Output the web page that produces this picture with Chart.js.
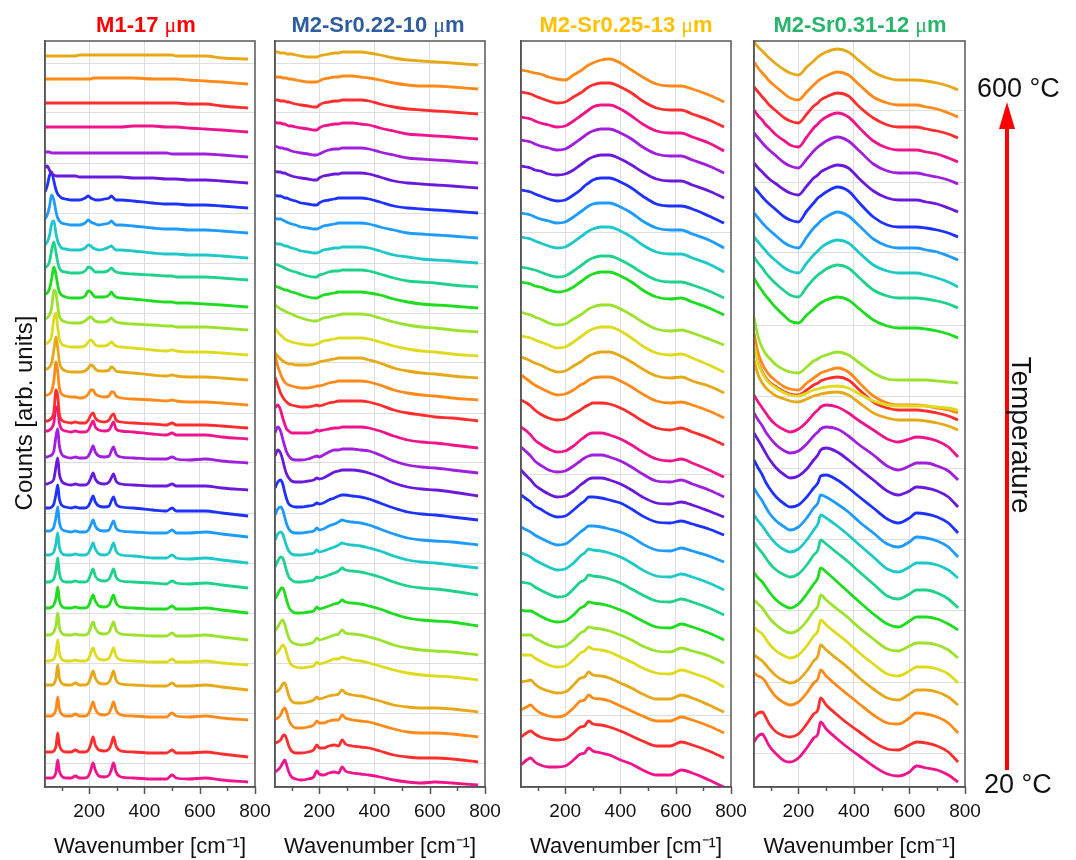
<!DOCTYPE html>
<html>
<head>
<meta charset="utf-8">
<script src="https://cdn.jsdelivr.net/npm/chart.js@4.4.1/dist/chart.umd.min.js"></script>
<style>
html,body{margin:0;padding:0;background:#fff;}
#wrap{position:relative;width:1076px;height:860px;overflow:hidden;font-family:"Liberation Sans",Arial,Helvetica,sans-serif;background:#fff;}
#wrap canvas{position:absolute;left:0;top:0;pointer-events:none;}
.txt{position:absolute;white-space:nowrap;color:#111;}
.ttl{position:absolute;top:12px;width:300px;height:26px;line-height:26px;text-align:center;font-weight:bold;font-size:22px;white-space:nowrap;}
.mu{font-family:"Liberation Serif","DejaVu Serif",serif;font-weight:normal;}
</style>
</head>
<body>
<div id="wrap">
<canvas id="p1" width="1076" height="860"></canvas>
<canvas id="p2" width="1076" height="860"></canvas>
<canvas id="p3" width="1076" height="860"></canvas>
<canvas id="p4" width="1076" height="860"></canvas>

<div class="ttl" style="left:-4px;color:#ff0000;">M1-17 <span class="mu">μ</span>m</div>
<div class="ttl" style="left:228px;color:#2e5da0;">M2-Sr0.22-10 <span class="mu">μ</span>m</div>
<div class="ttl" style="left:476px;color:#ffc000;">M2-Sr0.25-13 <span class="mu">μ</span>m</div>
<div class="ttl" style="left:710px;color:#27b56a;">M2-Sr0.31-12 <span class="mu">μ</span>m</div>

<div class="txt" style="left:-126px;top:399px;width:300px;height:28px;line-height:28px;text-align:center;font-size:24px;transform:rotate(-90deg);">Counts [arb. units]</div>

<div class="txt" style="left:977px;top:72px;font-size:27px;line-height:32px;">600 °C</div>
<div class="txt" style="left:984px;top:768px;font-size:27px;line-height:32px;">20 °C</div>
<div style="position:absolute;left:1005px;top:124px;width:3.5px;height:646px;background:#ff0000;"></div>
<div style="position:absolute;left:999px;top:102px;width:0;height:0;border-left:8px solid transparent;border-right:8px solid transparent;border-bottom:27px solid #ff0000;"></div>
<div class="txt" style="left:871px;top:419px;width:300px;height:32px;line-height:32px;text-align:center;font-size:28px;transform:rotate(90deg);">Temperature</div>
</div>

<script>
const FONT = '"Liberation Sans", Arial, Helvetica, sans-serif';

// temperatures of the stacked spectra (bottom to top)
const temperatures = [20,40,60,80,100,120,140,160,180,200,220,240,260,280,300,320,340,360,380,400,420,440,460,480,500,520,540,560,580,600];

// colour cycle used for the stacked spectra (repeats every 13)
const palette = ['#f0148c','#ff2d2d','#ff8a1a','#e6a817','#dedb1e','#9be22d','#1edc1e','#1ed28c','#1ec8c8','#1e9bff','#1e32ff','#6a19dc','#a01edc'];

// x-axis ticks
const xTickValues = [100,200,300,400,500,600,700,800];
const xLabelValues = [200,400,600,800];
const xGridValues = [200,400,600];

// ---------- Panel 1 : M1-17 um ----------
const m1X = [40,48,56,64,72,80,86,92,100,115,135,150,165,185,197,206,214,222,235,255,272,280,288,297,315,360,430,480,500,515,560,620,680,775];
const m1Offsets = [5,30,67,97,122,147,174,199,224,250,271,297,324,348,359,382,407,432,457,480,507,529,554,579,604,630,655,679,703,728];
const m1Curves = [
 [4,4,4,4,5,10,22,11,6, 4,4,6,4,4, 6,12,19,12,6,5, 7,12,19,10,5, 4,3,3,7,4, 3,4,2,0],
 [5,5,5,5,6,11,24,12,7, 5,5,7,5,5, 7,13,20,12,7,6, 8,13,20,11,6, 5,4,4,7,4, 4,5,3,0],
 [4,4,4,4,6,11,23,11,6, 4,4,6,4,4, 6,12,18,11,6,5, 7,12,18,10,5, 4,3,3,7,4, 3,4,2,0],
 [5,5,5,5,6,12,25,12,7, 5,5,7,5,5, 7,13,19,12,7,6, 8,13,19,10,6, 5,4,4,7,4, 4,5,3,0],
 [4,4,4,5,6,13,25,12,6, 4,4,5,4,4, 6,12,17,11,6,5, 7,12,17,9,5, 4,3,3,6,3, 3,4,2,0],
 [5,5,5,6,8,15,27,13,7, 5,5,6,5,5, 7,13,18,12,7,6, 8,13,18,10,6, 5,4,4,7,4, 4,5,3,0],
 [5,5,5,6,8,15,26,13,7, 5,5,6,5,5, 7,13,18,12,7,6, 8,13,18,10,6, 5,4,4,7,4, 4,5,3,0],
 [6,6,6,7,9,18,30,15,8, 6,6,7,6,6, 8,14,19,12,8,7, 9,14,19,11,7, 6,5,4,7,5, 4,5,3,0],
 [8,8,8,9,11,20,30,16,10, 8,8,9,8,8, 10,15,20,14,9,8, 10,15,20,12,8, 7,5,5,8,5, 4,5,3,0],
 [6,6,6,7,10,20,30,15,8, 6,5,6,5,5, 7,12,17,11,7,6, 7,12,16,9,6, 5,4,4,7,4, 4,5,3,0],
 [8,8,8,9,12,22,31,17,11, 9,8,9,8,8, 10,15,20,14,10,9, 10,15,19,12,9, 8,6,5,8,5, 5,5,3,0],
 [6,6,7,8,11,24,32,16,9, 6,5,6,5,5, 7,12,17,11,7,6, 8,12,16,9,6, 5,4,4,6,4, 4,4,2,0],
 [6,6,7,8,12,27,34,17,9, 6,5,6,5,5, 7,12,17,11,7,6, 7,12,16,9,6, 5,4,4,6,4, 3,4,2,0],
 [8,8,9,11,16,32,30,16,10, 8,7,8,7,7, 9,14,18,12,9,8, 9,13,17,10,8, 7,5,4,6,4, 4,4,2,0],
 [7,7,8,10,16,38,32,14,8, 6,5,6,5,5, 8,13,15,10,7,6, 8,12,14,8,6, 5,4,3,5,3, 3,3,2,0],
 [9,10,11,14,24,43,34,17,11, 9,8,8,7,8, 11,15,15,11,9,8, 9,13,13,9,7, 6,5,4,5,4, 3,3,2,0],
 [11,11,13,17,30,43,32,18,12, 9,8,8,8,9, 12,15,14,11,9,9, 10,13,12,9,8, 7,5,4,5,4, 3,3,2,0],
 [11,12,14,19,36,42,28,16,11, 9,8,8,8,9, 13,15,13,10,9,9, 11,13,11,9,8, 7,5,4,5,4, 3,3,2,0],
 [11,12,15,22,40,36,24,14,10, 8,7,7,7,9, 12,13,11,9,8,8, 10,12,10,8,7, 6,5,4,4,3, 3,3,2,0],
 [13,14,18,28,40,32,22,15,12, 10,9,9,9,11, 16,15,12,10,10,10, 12,15,12,10,9, 8,6,5,5,4, 4,3,2,0],
 [12,14,18,30,38,27,18,12,9, 8,7,7,7,9, 13,12,10,8,8,8, 10,12,10,8,7, 6,5,4,4,3, 3,3,2,0],
 [13,16,22,34,37,24,17,13,10, 9,8,8,8,10, 13,12,10,9,8,9, 11,12,10,8,8, 7,5,4,4,4, 3,3,2,0],
 [14,18,26,38,33,21,15,12,10, 9,8,8,8,10, 13,11,10,9,8,9, 10,12,10,8,8, 7,5,4,4,4, 3,3,2,0],
 [16,22,32,36,27,18,14,12,10, 9,8,8,8,10, 12,10,9,8,8,9, 10,12,10,8,8, 7,5,4,4,4, 3,3,2,0],
 [15,17,13,9,8,7,7,7,7, 7,7,7,6,6, 6,6,6,6,6,6, 6,6,6,6,6, 5,5,4,4,4, 3,3,2,0],
 [5,5,5,4,4,4,4,4,4, 4,4,4,4,4, 4,4,4,4,4,4, 4,4,4,4,4, 4,4,4,3,3, 3,3,2,0],
 [5,5,5,5,5,5,5,5,5, 5,5,5,5,5, 5,5,5,5,5,5, 5,5,5,5,5, 6,6,5,5,5, 4,3,2,0],
 [5,5,5,5,5,5,5,5,5, 5,5,5,5,5, 5,5,5,5,5,5, 5,5,5,5,5, 5,5,5,5,5, 4,4,2,0],
 [5,5,5,5,5,5,5,5,5, 5,5,5,5,5, 5,5,6,6,6,6, 6,6,6,6,6, 6,5,5,5,5, 4,3,2,0],
 [3,3,3,3,3,3,3,3,3, 3,3,3,4,4, 4,4,4,4,4,4, 4,4,4,4,4, 4,4,4,4,3, 3,3,1,0]
];
const m1YGrid = [24,74,124,174,224,274,324,374,424,474,524,574,624,674,724];

// ---------- Panel 2 : M2-Sr0.22-10 um ----------
const m2X = [40,50,60,68,75,82,90,100,115,135,160,180,192,200,215,235,255,270,283,295,320,350,380,420,470,520,570,620,680,775];
const m2Offsets = [2,25,50,75,107,132,161,192,219,242,267,291,314,339,366,387,409,431,455,479,500,524,549,574,599,624,648,673,698,722];
const m2Curves = [
 [13,15,18,22,25,20,13,8,6,5, 6,8,14,11,10,12,13,12,18,14, 12,11,10,8,5,3,2,3,2,0],
 [19,20,22,26,27,23,16,11,9,9, 10,12,17,14,14,16,17,16,22,18, 16,15,14,11,7,5,4,4,3,0],
 [18,19,22,27,29,25,17,12,9,9, 10,12,16,14,14,16,17,17,22,19, 17,16,15,12,8,5,4,4,3,0],
 [20,21,24,28,29,24,16,11,9,9, 10,12,15,13,14,16,17,18,22,19, 17,16,14,11,7,5,4,4,3,0],
 [25,28,32,35,33,27,20,15,13,12, 13,14,18,16,17,19,21,21,23,22, 20,19,17,14,10,7,5,4,3,0],
 [24,28,33,35,31,24,17,13,11,10, 11,13,17,15,16,18,20,21,25,22, 21,20,18,15,10,7,5,4,3,0],
 [27,32,37,38,33,26,19,15,13,13, 14,15,19,17,18,20,22,23,26,24, 23,22,20,17,12,8,6,5,4,0],
 [28,34,38,37,31,24,18,15,13,13, 14,15,18,17,18,20,22,24,27,25, 24,23,21,18,13,9,7,6,4,0],
 [28,34,36,34,28,22,17,14,13,13, 14,15,18,16,17,19,21,23,25,24, 23,22,20,17,12,8,6,5,3,0],
 [30,36,38,35,28,21,16,13,12,12, 13,14,17,15,16,19,21,23,25,24, 23,22,20,16,11,7,5,4,3,0],
 [32,38,40,36,28,21,16,14,13,13, 14,15,17,16,17,20,22,24,25,25, 24,23,21,17,12,8,6,5,3,0],
 [40,46,43,36,28,22,18,15,14,14, 15,16,18,17,18,21,24,25,26,26, 26,25,23,19,13,9,7,6,4,0],
 [40,46,42,34,27,21,17,14,13,13, 14,16,17,16,18,21,23,23,24,24, 24,23,22,18,12,8,6,5,3,0],
 [40,43,38,30,24,19,17,15,15,15, 15,16,18,17,18,19,20,20,21,21, 21,21,20,17,12,8,6,5,3,0],
 [44,36,28,24,21,19,17,16,15,14, 14,15,16,15,16,18,19,20,20,20, 20,20,19,16,11,8,6,4,3,0],
 [45,34,26,21,18,16,15,14,13,12, 12,13,14,14,15,17,18,19,19,19, 19,19,18,15,10,7,5,4,2,0],
 [25,22,19,17,16,15,14,14,13,13, 13,14,15,16,17,18,19,20,20,20, 20,20,18,15,10,7,5,4,2,0],
 [28,24,21,19,17,16,15,14,13,12, 11,11,12,13,15,16,17,18,18,18, 18,18,17,14,10,7,5,4,2,0],
 [27,25,23,22,21,20,19,18,16,14, 12,11,11,12,14,15,16,17,18,18, 18,18,17,14,10,7,5,4,2,0],
 [22,21,20,19,18,18,17,16,15,13, 11,10,10,11,13,14,15,16,16,16, 16,16,15,13,9,6,4,3,2,0],
 [23,22,21,20,19,18,17,16,15,13, 11,10,10,12,13,15,16,16,17,17, 17,17,16,13,9,6,5,4,2,0],
 [20,19,19,18,17,17,16,15,14,12, 11,10,10,11,13,14,15,15,16,16, 16,16,15,12,8,6,4,3,2,0],
 [20,19,19,18,17,16,15,14,13,11, 10,9,9,10,12,13,14,15,15,15, 15,15,14,11,8,5,4,3,2,0],
 [18,17,17,16,15,15,14,13,12,10, 9,8,8,10,12,13,14,15,15,15, 15,15,14,11,7,5,4,3,2,0],
 [17,16,16,15,15,14,13,12,11,10, 9,8,8,10,12,13,14,14,15,15, 15,15,14,11,7,5,4,3,2,0],
 [17,16,15,15,14,14,13,12,11,10, 9,8,8,9,11,13,14,14,15,15, 15,15,14,11,8,5,4,3,2,0],
 [17,16,16,15,15,14,13,13,12,11, 10,9,9,11,13,14,15,15,16,16, 16,15,14,11,8,5,4,3,2,0],
 [14,14,13,13,13,12,12,11,10,9, 8,7,7,9,11,12,13,13,14,14, 14,14,13,10,7,5,4,3,2,0],
 [12,12,12,11,11,11,10,10,9,8, 7,7,7,8,10,11,12,12,13,13, 13,12,11,9,6,4,3,3,2,0],
 [13,13,12,12,12,11,11,11,10,9, 8,8,8,9,10,11,12,12,13,13, 13,13,12,10,7,5,4,3,2,0]
];
const m2YGrid = [24,74,124,174,224,274,324,374,424,474,524,574,624,674,724];

// ---------- Panel 3 : M2-Sr0.25-13 um ----------
const m3X = [40,60,75,90,110,140,170,200,230,255,270,285,300,330,360,400,440,480,530,580,620,660,720,775];
const m3Offsets = [0,29,54,75,100,124,147,172,197,225,252,270,290,310,342,369,394,415,442,472,489,515,539,564,589,614,636,660,685];
const m3Curves = [
 [22,27,29,25,22,20,20,21, 27,33,34,39,36,34,32,27, 23,17,12,12,17,14,7,0],
 [21,25,27,24,21,19,18,19, 25,31,32,37,34,33,31,27, 22,17,12,12,16,13,7,0],
 [23,26,28,24,20,17,16,18, 25,32,33,38,35,34,32,27, 22,17,12,12,16,13,7,0],
 [30,31,32,28,24,21,19,20, 27,34,35,40,37,36,34,29, 24,18,13,13,17,14,7,0],
 [32,32,32,29,26,22,20,21, 27,34,36,40,38,37,35,30, 25,19,14,13,17,14,8,0],
 [28,28,28,25,22,18,16,17, 23,30,32,36,35,34,32,28, 23,17,12,11,15,12,7,0],
 [30,29,29,27,24,20,18,19, 25,32,34,38,37,36,34,30, 25,19,13,12,16,13,7,0],
 [33,32,31,28,25,21,18,19, 26,33,35,40,39,38,36,32, 26,20,14,13,16,13,7,0],
 [37,35,33,30,27,23,20,21, 27,34,37,41,40,39,37,33, 27,20,14,13,16,13,7,0],
 [35,32,30,27,24,20,17,18, 24,30,33,36,36,35,33,30, 25,18,12,11,14,11,6,0],
 [40,36,33,29,26,21,18,19, 25,31,34,38,38,37,35,32, 26,19,13,12,14,11,6,0],
 [47,41,37,32,28,23,20,21, 26,32,35,38,39,39,37,33, 27,20,14,13,15,12,6,0],
 [50,45,41,36,32,27,25,26, 31,36,39,41,42,42,40,36, 30,23,16,15,17,13,7,0],
 [50,46,42,37,33,28,25,26, 31,37,40,43,44,44,42,38, 32,25,18,16,18,14,7,0],
 [45,42,39,35,31,27,25,26, 31,35,38,40,42,42,41,37, 31,24,17,15,17,13,7,0],
 [43,39,36,33,30,26,23,24, 28,33,35,38,40,41,41,37, 31,24,17,15,16,13,7,0],
 [36,34,32,30,28,24,21,22, 27,31,34,37,39,41,41,37, 31,24,17,15,16,12,7,0],
 [36,35,34,32,30,27,24,25, 30,35,38,41,43,45,45,41, 34,26,19,17,18,14,7,0],
 [33,31,30,28,26,22,20,21, 26,30,33,36,38,40,40,36, 30,23,16,14,15,12,6,0],
 [33,32,31,29,28,25,23,24, 28,33,36,39,41,43,43,39, 33,25,18,16,17,13,7,0],
 [31,30,29,28,26,23,21,22, 27,32,35,38,40,42,42,38, 32,25,18,16,16,13,7,0],
 [35,34,33,31,29,26,24,25, 30,35,38,41,43,45,45,41, 35,27,20,18,18,14,8,0],
 [35,34,33,31,29,27,25,26, 31,36,39,42,44,45,45,41, 35,27,20,18,18,14,8,0],
 [33,32,31,29,27,24,22,23, 28,33,37,40,43,45,45,41, 35,27,19,17,17,14,7,0],
 [32,31,30,28,27,24,23,24, 28,33,36,39,41,43,43,39, 33,26,19,17,17,13,7,0],
 [33,32,31,29,27,25,23,24, 29,34,37,40,42,44,44,40, 34,26,19,17,17,13,7,0],
 [34,33,32,30,28,26,24,25, 30,35,38,41,44,46,46,42, 35,27,20,18,18,14,8,0],
 [35,34,33,31,29,26,24,25, 30,34,37,40,42,44,44,40, 34,26,19,17,17,13,7,0],
 [32,31,30,29,28,25,23,22, 27,31,34,37,39,42,43,39, 32,25,18,16,16,13,7,0]
];
const m3YGrid = [72,313,554];

// ---------- Panel 4 : M2-Sr0.31-12 um ----------
const m4X = [40,55,70,80,95,120,150,170,200,230,255,270,280,300,340,380,420,470,520,560,600,625,660,700,740,775];
const m4Offsets = [3,25,54,82,104,129,157,179,209,230,254,280,307,330,367,374,357,377,404,449,479,500,527,550,575,603,625,649,670,697];
const m4Curves = [
 [42,48,50,46,38,30,23,22,26, 36,46,50,62,55,45,36,28, 18,10,8,12,18,16,14,9,2],
 [45,49,50,46,38,30,26,25,28, 38,48,52,64,57,47,38,30, 20,13,12,17,20,19,16,10,0],
 [60,57,55,52,45,36,30,28,31, 40,50,54,63,57,47,38,29, 18,10,9,15,20,19,16,10,0],
 [50,47,44,41,36,29,24,22,25, 34,44,49,60,55,46,37,27, 16,7,5,11,15,15,13,8,0],
 [56,52,49,45,39,32,27,25,28, 37,47,52,63,58,49,40,30, 19,9,7,12,16,16,14,9,0],
 [58,54,50,46,40,33,27,25,28, 37,47,52,63,58,49,40,30, 19,9,7,12,15,15,13,8,0],
 [57,52,48,44,38,30,24,22,26, 36,46,52,62,58,48,38,28, 16,6,3,9,13,13,11,6,0],
 [66,60,55,51,45,38,33,31,34, 43,53,58,68,64,55,46,36, 24,12,9,14,18,18,15,9,0],
 [63,57,52,48,42,34,28,26,29, 38,48,54,63,60,52,43,33, 21,9,6,11,15,15,13,8,0],
 [69,62,56,51,44,36,30,27,30, 39,49,54,62,60,53,45,35, 24,13,10,15,20,19,16,10,0],
 [73,65,58,52,45,36,29,26,28, 36,45,50,57,58,53,45,36, 25,14,10,15,20,19,16,10,0],
 [74,67,60,55,48,39,32,29,31, 38,47,52,57,59,55,47,38, 27,16,12,16,20,19,16,10,0],
 [67,60,54,49,43,35,29,27,29, 36,44,48,51,53,51,44,35, 25,14,10,14,17,17,14,9,0],
 [62,55,49,45,39,32,27,25,28, 35,43,47,50,52,50,44,36, 27,18,15,18,20,19,16,10,0],
 [75,58,48,43,38,33,28,26,25, 30,35,37,39,41,43,40,30, 18,12,10,10,10,9,7,4,0],
 [80,60,49,44,38,32,26,24,23, 30,35,38,40,42,45,41,30, 17,10,8,8,8,7,5,3,0],
 [70,55,47,43,39,34,31,29,28, 31,34,35,36,37,38,35,27, 17,12,10,10,10,9,7,4,0],
 [65,47,37,32,27,22,17,15,14, 17,20,21,22,23,24,22,16, 9,5,4,4,4,4,3,2,0],
 [66,46,35,30,25,18,13,11,10, 16,22,24,26,28,31,28,20, 10,4,3,3,3,3,2,1,0],
 [60,53,47,43,38,30,22,17,15, 23,29,33,35,38,41,38,29, 18,12,10,10,10,9,7,4,0],
 [51,45,40,36,31,24,17,13,11, 21,29,33,35,39,43,40,30, 18,12,10,10,10,9,7,4,0],
 [50,45,40,37,32,26,19,16,14, 24,32,36,39,43,47,44,34, 22,16,14,14,14,12,9,5,0],
 [47,42,37,34,30,24,17,14,12, 23,32,36,39,43,48,44,34, 21,14,12,12,12,10,8,4,0],
 [50,45,40,37,33,27,20,17,15, 26,34,39,41,45,50,46,34, 20,12,10,10,10,9,7,4,0],
 [49,44,40,37,33,28,22,19,17, 26,34,37,40,43,47,44,33, 21,14,12,12,12,10,8,4,0],
 [51,46,41,38,34,28,21,18,16, 25,33,37,39,43,47,43,33, 20,13,11,11,11,9,7,4,0],
 [52,46,42,38,34,27,21,17,15, 25,34,38,41,45,49,45,34, 21,14,12,12,12,10,8,4,0],
 [51,46,41,38,33,27,20,17,15, 24,32,35,38,41,45,42,31, 20,13,11,11,11,9,7,4,0],
 [55,49,44,41,36,30,23,19,17, 25,32,36,38,41,45,42,32, 20,14,12,12,12,10,8,4,0],
 [48,43,39,36,32,26,20,17,15, 23,29,33,35,38,41,38,29, 18,12,10,10,10,9,7,4,0]
];
const m4YGrid = [34,105,177,248,319,391,462,534,605,676];

// ---------- drawing ----------
const framePlugin = {
  id: 'frame',
  afterDatasetsDraw(chart) {
    const {ctx, chartArea: a, scales: {x}} = chart;
    ctx.save();
    ctx.strokeStyle = '#555';
    ctx.lineWidth = 1.5;
    ctx.strokeRect(a.left, a.top, a.right - a.left, a.bottom - a.top);
    ctx.beginPath();
    xTickValues.forEach(v => {
      const px = Math.round(x.getPixelForValue(v)) + 0.5;
      const len = xLabelValues.includes(v) ? 7 : 4;
      ctx.moveTo(px, a.bottom);
      ctx.lineTo(px, a.bottom + len);
    });
    ctx.stroke();
    ctx.restore();
  }
};

function buildPanel(id, xs, curves, offsets, yGrid, left, right) {
  const datasets = curves.map((c, k) => ({
    label: temperatures[k] + ' °C',
    data: xs.map((x, j) => ({x: x, y: offsets[k] + c[j]})),
    borderColor: palette[k % palette.length],
    borderWidth: 2.8,
    pointRadius: 0,
    fill: false,
    cubicInterpolationMode: 'monotone',
    order: curves.length - k
  }));
  return new Chart(document.getElementById(id), {
    type: 'line',
    data: {datasets},
    options: {
      responsive: false,
      animation: false,
      devicePixelRatio: 1,
      events: [],
      layout: {padding: {left: left, right: 1076 - right, top: 41, bottom: 0}},
      plugins: {legend: {display: false}, tooltip: {enabled: false}, title: {display: false}},
      scales: {
        x: {
          type: 'linear', min: 40, max: 800,
          afterBuildTicks: s => { s.ticks = xTickValues.map(v => ({value: v})); },
          afterFit: s => { s.height = 73; },
          ticks: {autoSkip: false, maxRotation: 0, padding: 13, color: '#111',
                  font: {family: FONT, size: 19},
                  callback: v => (xLabelValues.includes(v) ? String(v) : '')},
          grid: {drawTicks: false, lineWidth: 1,
                 color: c => (c.tick && xGridValues.includes(c.tick.value)) ? '#dedede' : 'rgba(0,0,0,0)'},
          border: {display: true, color: '#555', width: 1.5},
          title: {display: true, text: 'Wavenumber [cm⁻¹]', color: '#111',
                  font: {family: FONT, size: 22}, padding: {top: 0, bottom: 0}}
        },
        y: {
          min: 0, max: 746,
          afterBuildTicks: s => { s.ticks = yGrid.map(v => ({value: v})); },
          afterFit: s => { s.width = 0; },
          ticks: {display: false},
          grid: {drawTicks: false, color: '#dedede', lineWidth: 1},
          border: {display: true, color: '#555', width: 1.5}
        }
      }
    },
    plugins: [framePlugin]
  });
}

buildPanel('p1', m1X, m1Curves, m1Offsets, m1YGrid, 45, 255);
buildPanel('p2', m2X, m2Curves, m2Offsets, m2YGrid, 275, 485);
buildPanel('p3', m3X, m3Curves, m3Offsets, m3YGrid, 521, 731);
buildPanel('p4', m4X, m4Curves, m4Offsets, m4YGrid, 754, 965);
</script>
</body>
</html>
